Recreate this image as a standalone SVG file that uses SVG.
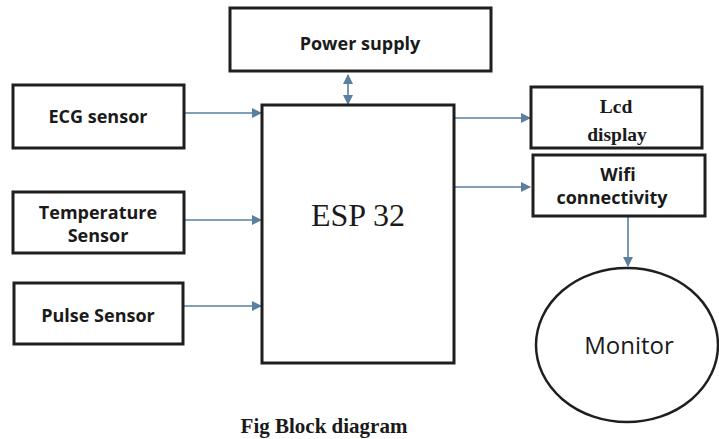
<svg xmlns="http://www.w3.org/2000/svg" width="719" height="439" viewBox="0 0 719 439">
<style>
.box{fill:#fff;stroke:#1f1f1f;stroke-width:3}
.lbl{font-family:"Open Sans","Liberation Sans",sans-serif;font-weight:bold;font-size:18px;fill:#1a1a1a;text-anchor:middle}
.ser{font-family:"Liberation Serif","Times New Roman",serif;fill:#1a1a1a;text-anchor:middle}
.conn{stroke:#5a7f9f;stroke-width:1.6;fill:none}
</style>
<defs>
<marker id="ah" viewBox="0 0 10 10" refX="9" refY="5" markerWidth="11" markerHeight="10" markerUnits="userSpaceOnUse" orient="auto-start-reverse">
<path d="M0,0 L10,5 L0,10 Z" fill="#5a7f9f"/>
</marker>
</defs>
<rect width="719" height="439" fill="#fff"/>
<g id="connectors">
<line class="conn" x1="348" y1="75" x2="348" y2="104" marker-start="url(#ah)" marker-end="url(#ah)"/>
<line class="conn" x1="184" y1="113" x2="261" y2="113" marker-end="url(#ah)"/>
<line class="conn" x1="184" y1="220" x2="261" y2="220" marker-end="url(#ah)"/>
<line class="conn" x1="184" y1="306" x2="261" y2="306" marker-end="url(#ah)"/>
<line class="conn" x1="454" y1="118" x2="530" y2="118" marker-end="url(#ah)"/>
<line class="conn" x1="454" y1="187" x2="530" y2="187" marker-end="url(#ah)"/>
<line class="conn" x1="628" y1="216" x2="628" y2="266" marker-end="url(#ah)"/>
</g>
<g id="power">
<rect class="box" x="230" y="8" width="261" height="63"/>
<text class="lbl" x="360" y="50">Power supply</text>
</g>
<g id="esp32">
<rect class="box" x="262" y="105" width="192" height="258"/>
<text class="ser" x="358" y="226" font-size="32">ESP 32</text>
</g>
<g id="ecg">
<rect class="box" x="13" y="85" width="171" height="63"/>
<text class="lbl" x="98" y="123">ECG sensor</text>
</g>
<g id="temp">
<rect class="box" x="13" y="192" width="171" height="61"/>
<text class="lbl" x="98" y="219">Temperature</text>
<text class="lbl" x="98" y="242">Sensor</text>
</g>
<g id="pulse">
<rect class="box" x="14" y="283" width="169" height="61"/>
<text class="lbl" x="98" y="322">Pulse Sensor</text>
</g>
<g id="lcd">
<rect class="box" x="531" y="87" width="171" height="61"/>
<text class="ser" x="616" y="113" font-size="19.5" font-weight="bold">Lcd</text>
<text class="ser" x="617" y="141" font-size="19.5" font-weight="bold">display</text>
</g>
<g id="wifi">
<rect class="box" x="533" y="155" width="172" height="61"/>
<text class="lbl" x="618" y="181" font-size="19">Wifi</text>
<text class="lbl" x="612" y="204" font-size="19">connectivity</text>
</g>
<g id="monitor">
<ellipse cx="627" cy="345" rx="91" ry="77" fill="#fff" stroke="#1f1f1f" stroke-width="2.5"/>
<text x="629" y="354" font-family="Open Sans, Liberation Sans, sans-serif" font-size="24" fill="#1a1a1a" text-anchor="middle">Monitor</text>
</g>
<text class="ser" x="324" y="433" font-size="21" font-weight="bold">Fig Block diagram</text>
</svg>
